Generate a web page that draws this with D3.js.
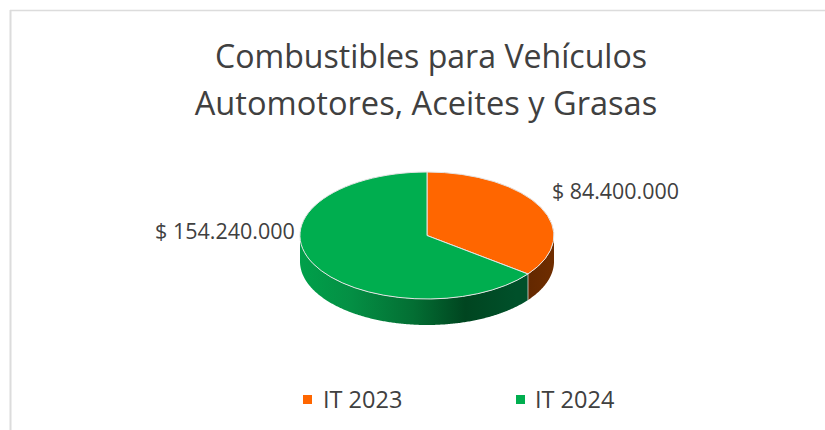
<!DOCTYPE html>
<html>
<head>
<meta charset="utf-8">
<style>
  html, body { margin: 0; padding: 0; background: #fff; }
  svg { display: block; }
  text { font-family: "Open Sans", sans-serif; fill: #404040; }
</style>
<script src="https://cdn.jsdelivr.net/npm/d3@7"></script>
</head>
<body>
<div class="canvas"></div>
<script>
const categories = ['IT 2023', 'IT 2024'];
const values = [84400000, 154240000];
const valueLabels = ['$ 84.400.000', '$ 154.240.000'];
const titleLines = ['Combustibles para Vehículos', 'Automotores, Aceites y Grasas'];

const width = 825, height = 430;
const cx = 427, cy = 235.5, rx = 127, ry = 63.5, depth = 26;

const svg = d3.select('.canvas')
  .append('svg')
    .attr('width', width)
    .attr('height', height);

// frame of the chart area, only top and left show
svg.append('line').attr('x1', 10).attr('x2', width).attr('y1', 10.5).attr('y2', 10.5)
  .attr('stroke', '#dcdcdc').attr('stroke-width', 1.5);
svg.append('line').attr('x1', 10.5).attr('x2', 10.5).attr('y1', 10).attr('y2', height)
  .attr('stroke', '#dcdcdc').attr('stroke-width', 2);

const color = d3.scaleOrdinal().domain(categories).range(['#ff6600', '#00ae4f']);

// title, each line placed on its own because the font is not the original
const titleX = [431, 426];
const titleSize = [32.1, 32.6];
svg.selectAll('.title')
  .data(titleLines)
  .enter()
  .append('text')
    .attr('class', 'title')
    .attr('x', (d, i) => titleX[i])
    .attr('y', (d, i) => 68 + i * 47)
    .attr('text-anchor', 'middle')
    .attr('font-size', (d, i) => titleSize[i])
    .text(d => d);

// side gradients
const defs = svg.append('defs');
const greenGrad = defs.append('linearGradient')
  .attr('id', 'sideGreen')
  .attr('gradientUnits', 'userSpaceOnUse')
  .attr('x1', cx - rx).attr('x2', cx + rx).attr('y1', 0).attr('y2', 0);
[[0, '#00a04a'], [0.2, '#048f44'], [0.45, '#036e33'], [0.65, '#004520'], [0.85, '#00502a'], [1, '#00502a']]
  .forEach(s => greenGrad.append('stop').attr('offset', s[0]).attr('stop-color', s[1]));

const orangeGrad = defs.append('linearGradient')
  .attr('id', 'sideOrange')
  .attr('gradientUnits', 'userSpaceOnUse')
  .attr('x1', cx + 100).attr('x2', cx + rx).attr('y1', 0).attr('y2', 0);
[[0, '#632800'], [1, '#6f2d00']]
  .forEach(s => orangeGrad.append('stop').attr('offset', s[0]).attr('stop-color', s[1]));

const pie = d3.pie().sort(null)(values);

// points on the rim for an angle
const rimX = a => cx + rx * Math.sin(a);
const rimY = a => cy - ry * Math.cos(a);

// side walls, only the front half of the ellipse is visible
const wall = d3.area()
  .x(a => rimX(a))
  .y0(a => rimY(a))
  .y1(a => rimY(a) + depth)
  .curve(d3.curveLinear);

const sideFill = ['url(#sideOrange)', 'url(#sideGreen)'];
pie.forEach((p, i) => {
  const start = Math.max(p.startAngle, Math.PI / 2);
  const end = Math.min(p.endAngle, Math.PI * 1.5);
  if (start >= end) return;
  svg.append('path')
    .attr('d', wall(d3.range(start, end, 0.01).concat(end)))
    .attr('fill', sideFill[i]);
});

// wall edge where the two slices meet
const edge = pie[0].endAngle;
svg.append('line')
  .attr('x1', rimX(edge)).attr('x2', rimX(edge))
  .attr('y1', rimY(edge)).attr('y2', rimY(edge) + depth)
  .attr('stroke', '#d9d9d9').attr('stroke-width', 0.8);

// top face: unit arcs squashed into the ellipse
const arc = d3.arc().innerRadius(0).outerRadius(1);
svg.append('g')
  .attr('transform', `translate(${cx}, ${cy}) scale(${rx}, ${ry})`)
  .selectAll('path')
  .data(pie)
  .enter()
  .append('path')
    .attr('d', arc)
    .attr('fill', (d, i) => color(categories[i]))
    .attr('stroke', '#e4e4e4')
    .attr('stroke-width', 1)
    .attr('vector-effect', 'non-scaling-stroke');

// value labels
svg.append('text').attr('x', 552).attr('y', 199).attr('font-size', 21.4).text(valueLabels[0]);
svg.append('text').attr('x', 155).attr('y', 239).attr('font-size', 21.5).text(valueLabels[1]);

// legend
const legendX = [303, 516];
const legend = svg.selectAll('.legend')
  .data(categories)
  .enter()
  .append('g')
    .attr('class', 'legend')
    .attr('transform', (d, i) => `translate(${legendX[i]}, 0)`);

legend.append('rect')
  .attr('x', 0).attr('y', 395)
  .attr('width', 9).attr('height', 9)
  .attr('fill', d => color(d));

legend.append('text')
  .attr('x', (d, i) => 20 - i)
  .attr('y', 408)
  .attr('font-size', 23.5)
  .text(d => d);
</script>
</body>
</html>
